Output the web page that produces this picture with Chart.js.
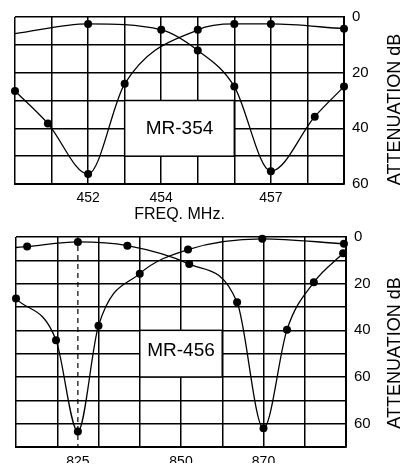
<!DOCTYPE html>
<html>
<head>
<meta charset="utf-8">
<script src="https://cdn.jsdelivr.net/npm/chart.js@4.4.1/dist/chart.umd.min.js"></script>
<style>
  body { margin: 0; background: #fff; }
  #wrap { position: relative; width: 401px; height: 464px; }
  #grafico354 { position: absolute; left: 0; top: 0; }
  #grafico456 { position: absolute; left: 0; top: 220px; }
</style>
</head>
<body>
<div id="wrap">
  <canvas id="grafico354" width="401" height="224"></canvas>
  <canvas id="grafico456" width="401" height="244"></canvas>
</div>
<script>
// Começo dados MR-354 (450 a 459 MHz)
const freqA354 = [450, 452, 454, 455, 456, 457, 458.2, 459];
const atenA354 = [6, 2.5, 4.6, 12, 25, 55.4, 35.8, 25];
const freqB354 = [450, 450.9, 452, 453, 455, 456, 457, 459];
const atenB354 = [26.6, 38.3, 56.4, 24, 4.6, 2.5, 2.5, 4.2];
const freqLabels354 = [452, 454, 457];
const atenVals354 = [0, 20, 40, 60];
const atenLabels354 = ['0', '20', '40', '60'];

// Começo dados MR-456 (810 a 890 MHz)
const freqA456 = [810, 812.7, 825, 837, 852, 863.6, 870, 875.7, 882.2, 889.3];
const atenA456 = [4.5, 4.1, 2.1, 3.7, 11.6, 28, 82, 39.7, 19.4, 7];
const freqB456 = [810, 819.7, 825, 830, 840, 851.7, 869.7, 889.5];
const atenB456 = [26.4, 44.2, 83.4, 38, 15.7, 5.4, 0.8, 2.9];
const freqLabels456 = [825, 850, 870];
const atenVals456 = [0, 20, 40, 60, 80];
const atenLabels456 = ['0', '20', '40', '60', '60']; // o original repete o 60

Chart.defaults.font.family = '"Liberation Sans", Arial, Helvetica, sans-serif';
Chart.defaults.color = '#000';

const fonte = '"Liberation Sans", Arial, Helvetica, sans-serif';

function pontos(xs, ys) {
  return xs.map((x, i) => ({ x: x, y: ys[i] }));
}

function passos(min, max, step) {
  const out = [];
  for (let v = min; v <= max + 1e-9; v += step) out.push(v);
  return out;
}

// caixa com o nome do filtro, linha tracejada e título do eixo
const marcacoes = {
  id: 'marcacoes',
  beforeDatasetsDraw(chart, args, opts) {
    const { ctx, chartArea } = chart;
    const x = chart.scales.x, y = chart.scales.y;
    const b = opts.caixa;
    const x0 = x.getPixelForValue(b[0]), x1 = x.getPixelForValue(b[1]);
    const y0 = y.getPixelForValue(b[2]), y1 = y.getPixelForValue(b[3]);
    ctx.save();
    ctx.fillStyle = '#fff';
    ctx.fillRect(x0, y0, x1 - x0, y1 - y0);
    ctx.strokeStyle = '#000';
    ctx.lineWidth = 1.5;
    ctx.strokeRect(x0, y0, x1 - x0, y1 - y0);
    ctx.fillStyle = '#000';
    ctx.font = '19px ' + fonte;
    ctx.textAlign = 'center';
    ctx.textBaseline = 'middle';
    ctx.fillText(opts.nome, (x0 + x1) / 2, (y0 + y1) / 2 + opts.nomeDy);
    if (opts.tracejado != null) {
      const xp = x.getPixelForValue(opts.tracejado);
      ctx.setLineDash([5, 4]);
      ctx.lineWidth = 1.2;
      ctx.beginPath();
      ctx.moveTo(xp, chartArea.top);
      ctx.lineTo(xp, chartArea.bottom);
      ctx.stroke();
    }
    ctx.restore();
  },
  afterDraw(chart, args, opts) {
    const { ctx, chartArea } = chart;
    ctx.save();
    ctx.translate(opts.tituloX, (chartArea.top + chartArea.bottom) / 2 + opts.tituloDy);
    ctx.rotate(-Math.PI / 2);
    ctx.fillStyle = '#000';
    ctx.font = '18px ' + fonte;
    ctx.textAlign = 'center';
    ctx.textBaseline = 'middle';
    ctx.fillText('ATTENUATION dB', 0, 0);
    ctx.restore();
  }
};

function montarConfig(p) {
  const linha = {
    borderColor: '#000',
    borderWidth: 1.3,
    pointBackgroundColor: '#000',
    pointBorderColor: '#000',
    pointBorderWidth: 0,
    cubicInterpolationMode: 'monotone',
    fill: false,
    clip: false
  };
  const xTicks = passos(p.xmin, p.xmax, p.xstep)
    .concat(p.xLabels.filter(v => (v - p.xmin) % p.xstep !== 0))
    .sort((a, b) => a - b);
  return {
    type: 'line',
    data: {
      datasets: [
        Object.assign({ data: pontos(p.xa, p.ya), pointRadius: c => (p.semPontoInicial && c.dataIndex === 0) ? 0 : 4 }, linha),
        Object.assign({ data: pontos(p.xb, p.yb), pointRadius: 4 }, linha)
      ]
    },
    plugins: [marcacoes],
    options: {
      responsive: false,
      animation: false,
      layout: { padding: p.padding },
      plugins: {
        legend: { display: false },
        tooltip: { enabled: false },
        marcacoes: {
          caixa: p.caixa,
          nome: p.nome,
          nomeDy: p.nomeDy,
          tracejado: p.tracejado,
          tituloX: 395,
          tituloDy: p.tituloDy
        }
      },
      scales: {
        x: {
          type: 'linear',
          min: p.xmin,
          max: p.xmax,
          afterBuildTicks: s => { s.ticks = xTicks.map(v => ({ value: v })); },
          afterFit: s => { s.height = p.xAxisH; },
          grid: {
            color: c => (c.tick && c.tick.value === p.tracejado) ? 'rgba(0,0,0,0)' : '#000',
            lineWidth: 1.5,
            drawTicks: false
          },
          border: { color: '#000', width: 2 },
          ticks: {
            autoSkip: false,
            maxRotation: 0,
            padding: p.xPad,
            color: '#000',
            font: { size: 14 },
            callback: v => p.xLabels.includes(v) ? String(v) : ''
          },
          title: {
            display: !!p.xTitulo,
            text: p.xTitulo || '',
            color: '#000',
            font: { size: 16 },
            padding: { top: 0, bottom: 0 }
          }
        },
        y: {
          type: 'linear',
          position: 'right',
          reverse: true,
          min: 0,
          max: p.ymax,
          afterBuildTicks: s => { s.ticks = passos(0, p.ymax, 10).map(v => ({ value: v })); },
          afterFit: s => { s.width = p.yAxisW; },
          grid: { color: '#000', lineWidth: 1.5, drawTicks: false },
          border: { color: '#000', width: 2 },
          ticks: {
            padding: 8,
            color: '#000',
            font: { size: 15 },
            callback: v => {
              const i = p.yVals.indexOf(v);
              return i >= 0 ? p.yLabels[i] : '';
            }
          }
        }
      }
    }
  };
}

const myChart1 = new Chart(
  document.getElementById('grafico354'),
  montarConfig({
    xa: freqA354, ya: atenA354, xb: freqB354, yb: atenB354,
    xmin: 450, xmax: 459, xstep: 1, ymax: 60,
    xLabels: freqLabels354, yVals: atenVals354, yLabels: atenLabels354,
    xTitulo: 'FREQ. MHz.',
    semPontoInicial: true,
    caixa: [453, 456, 30, 50], nome: 'MR-354', nomeDy: 0,
    tracejado: null,
    padding: { left: 15, top: 15, right: 0, bottom: 0 },
    xAxisH: 40, yAxisW: 57, xPad: 6, tituloDy: 9
  })
);

const myChart2 = new Chart(
  document.getElementById('grafico456'),
  montarConfig({
    xa: freqA456, ya: atenA456, xb: freqB456, yb: atenB456,
    xmin: 810, xmax: 890, xstep: 10, ymax: 90,
    xLabels: freqLabels456, yVals: atenVals456, yLabels: atenLabels456,
    xTitulo: null,
    semPontoInicial: true,
    caixa: [840, 860, 40, 60], nome: 'MR-456', nomeDy: -3,
    tracejado: 825,
    padding: { left: 16, top: 10, right: 0, bottom: 0 },
    xAxisH: 16, yAxisW: 55, xPad: 7, tituloDy: 11
  })
);
</script>
</body>
</html>
